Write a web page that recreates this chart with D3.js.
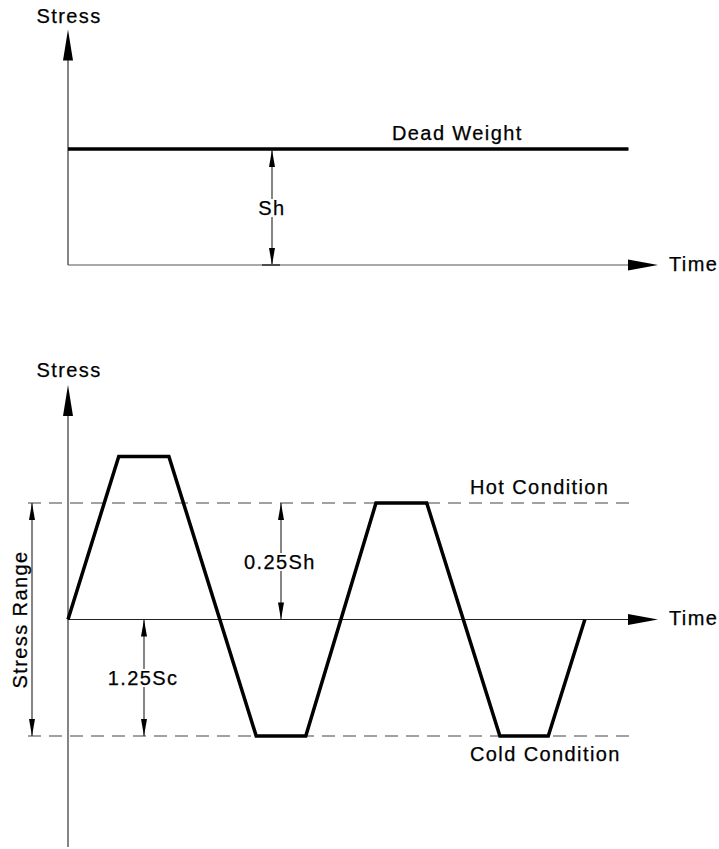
<!DOCTYPE html>
<html>
<head>
<meta charset="utf-8">
<script src="https://cdn.jsdelivr.net/npm/d3@7"></script>
<style>
  html, body { margin: 0; padding: 0; background: #fff; }
  text { font-family: "Liberation Sans", Arial, Helvetica, sans-serif; font-size: 20px; letter-spacing: 1.4px; fill: #000; stroke: #000; stroke-width: 0.25px; }
</style>
</head>
<body>
<svg id="chart" width="719" height="849"></svg>
<script>
// ---- Data (time in arbitrary units 0..100, stress in relative units) ----
// Top chart: sustained (dead weight) stress
const deadWeightTime = [0, 95];
const deadWeightLevel = 1;          // Sh
// Bottom chart: cyclic thermal stress waveform
const waveTime   = [0, 8.6, 17.1, 31.9, 40.3, 52.2, 60.8, 73.2, 81.4, 87.6];
const waveStress = [0, 1.4, 1.4, -1, -1, 1, 1, -1, -1, 0];
const hotLevel = 1;                 // Hot Condition
const coldLevel = -1;               // Cold Condition
const conditionLabels = ["Hot Condition", "Cold Condition"];
const axisLabels = ["Stress", "Time"];
const dimLabels = ["Sh", "0.25Sh", "1.25Sc", "Stress Range"];

const svg = d3.select("#chart");

// Shared horizontal scale
const x = d3.scaleLinear().domain([0, 100]).range([68, 658]);
// Top chart vertical scale
const yTop = d3.scaleLinear().domain([0, 1]).range([265, 149]);
// Bottom chart vertical scale
const yBot = d3.scaleLinear().domain([-1, 1]).range([736, 503]);

function upArrow(g, cx, tipY, w, h) {
  g.append("path").attr("d", `M${cx},${tipY} L${cx - w/2},${tipY + h} L${cx + w/2},${tipY + h} Z`).attr("fill", "#000");
}
function downArrow(g, cx, tipY, w, h) {
  g.append("path").attr("d", `M${cx},${tipY} L${cx - w/2},${tipY - h} L${cx + w/2},${tipY - h} Z`).attr("fill", "#000");
}
function rightArrow(g, tipX, cy, w, h) {
  g.append("path").attr("d", `M${tipX},${cy} L${tipX - w},${cy - h/2} L${tipX - w},${cy + h/2} Z`).attr("fill", "#000");
}
function line(g, x1, y1, x2, y2, w, color, dash) {
  const l = g.append("line").attr("x1", x1).attr("y1", y1).attr("x2", x2).attr("y2", y2)
    .attr("stroke", color || "#222").attr("stroke-width", w || 1.2);
  if (dash) l.attr("stroke-dasharray", dash);
  return l;
}
function labelWithBg(g, txt, cx, baseline) {
  const t = g.append("text").attr("x", cx).attr("y", baseline).attr("text-anchor", "middle").text(txt);
  const bb = t.node().getBBox();
  g.insert("rect", "text:last-of-type")
    .attr("x", bb.x - 1).attr("y", bb.y + 2).attr("width", bb.width + 2).attr("height", bb.height - 4)
    .attr("fill", "#fff");
  t.raise();
}
function dimension(g, cx, yA, yB) {
  line(g, cx, yA, cx, yB, 1.1, "#222");
  upArrow(g, cx, yA, 6, 17);
  downArrow(g, cx, yB, 6, 17);
}

// ================= TOP CHART =================
const gt = svg.append("g");
const top0 = yTop(0);
line(gt, x(0), yTop(2.03) + 20, x(0), top0, 1.2, "#333");
upArrow(gt, x(0), yTop(2.03), 10, 31);
line(gt, x(0), top0, x(100) - 20, top0, 1.2, "#555");
rightArrow(gt, x(100), top0, 30, 11);
gt.append("text").attr("x", x(0) + 1).attr("y", 23).attr("text-anchor", "middle").text(axisLabels[0]);
gt.append("text").attr("x", 669).attr("y", 271).text(axisLabels[1]);

// dead weight line
gt.append("path")
  .datum(deadWeightTime.map(t => [t, deadWeightLevel]))
  .attr("d", d3.line().x(d => x(d[0])).y(d => yTop(d[1])))
  .attr("stroke", "#000").attr("stroke-width", 3.5).attr("fill", "none");
gt.append("text").attr("x", 392).attr("y", 140).text("Dead Weight");

// Sh dimension
const shX = 272;
dimension(gt, shX, yTop(deadWeightLevel) + 1, top0);
line(gt, shX - 10, top0, shX + 8, top0, 1.8, "#444");
labelWithBg(gt, dimLabels[0], shX, 215);

// ================= BOTTOM CHART =================
const gb = svg.append("g");
const b0 = yBot(0);
line(gb, x(0), 405, x(0), 847, 1.2, "#333");
upArrow(gb, x(0), 385, 10, 31);
line(gb, x(0), b0, x(100) - 20, b0, 1.2, "#222");
rightArrow(gb, x(100), b0, 30, 11);
gb.append("text").attr("x", x(0) + 1).attr("y", 377).attr("text-anchor", "middle").text(axisLabels[0]);
gb.append("text").attr("x", 669).attr("y", 625).text(axisLabels[1]);

// dashed condition lines
line(gb, 28, yBot(hotLevel), 630, yBot(hotLevel), 1.2, "#444", "13,8");
line(gb, 28, yBot(coldLevel), 630, yBot(coldLevel), 1.2, "#444", "13,8");
gb.append("text").attr("x", 470).attr("y", 494).text(conditionLabels[0]);
gb.append("text").attr("x", 470).attr("y", 760.5).text(conditionLabels[1]);

// waveform
gb.append("path")
  .datum(d3.zip(waveTime, waveStress))
  .attr("d", d3.line().x(d => x(d[0])).y(d => yBot(d[1])))
  .attr("stroke", "#000").attr("stroke-width", 3.5).attr("fill", "none")
  .attr("stroke-linejoin", "miter");

// Stress range dimension
dimension(gb, 32, yBot(hotLevel), yBot(coldLevel));
gb.append("text")
  .attr("transform", `translate(26.5, ${(yBot(hotLevel) + yBot(coldLevel)) / 2}) rotate(-90)`)
  .attr("text-anchor", "middle").text(dimLabels[3]);

// 0.25Sh dimension
dimension(gb, 281, yBot(hotLevel), b0);
labelWithBg(gb, dimLabels[1], 280, 569);

// 1.25Sc dimension
dimension(gb, 144, b0, yBot(coldLevel));
labelWithBg(gb, dimLabels[2], 143, 685);
</script>
</body>
</html>
